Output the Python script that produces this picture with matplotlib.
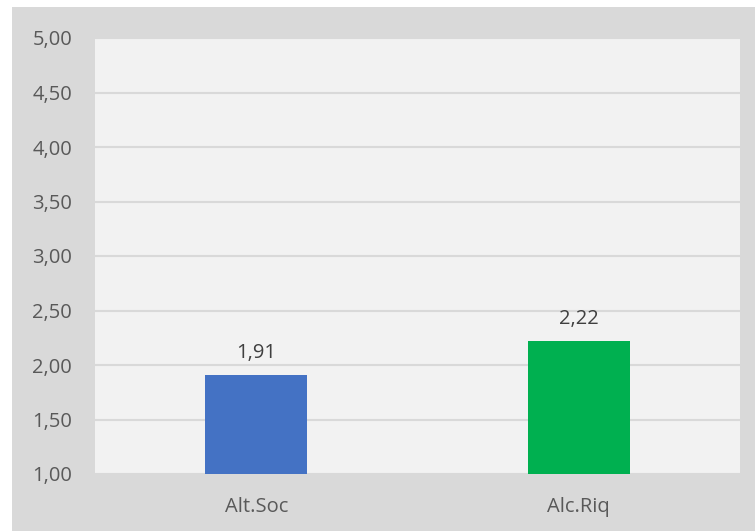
import matplotlib.pyplot as plt
from matplotlib.patches import Rectangle

categories = ['Alt.Soc', 'Alc.Riq']
values = [1.91, 2.22]
bar_colors = ['#4472c4', '#00b050']
yticks = [1.0, 1.5, 2.0, 2.5, 3.0, 3.5, 4.0, 4.5, 5.0]

plt.rcParams['font.family'] = ['Open Sans', 'DejaVu Sans']

W, H = 755, 531
fig = plt.figure(figsize=(W / 100, H / 100), dpi=100)
fig.patch.set_facecolor('white')
# gray chart area, leaving a white strip at left and top
fig.patches.append(Rectangle((12 / W, 0), 1 - 12 / W, 1 - 7 / H,
                             transform=fig.transFigure, facecolor='#d9d9d9',
                             edgecolor='none', zorder=-10))

ax = fig.add_axes([95 / W, (H - 474) / H, 645 / W, 436 / H])
ax.set_facecolor('#f2f2f2')

x = range(len(categories))
ax.bar(x, [v - 1.0 for v in values], bottom=1.0, width=0.316,
       color=bar_colors, zorder=3)
for xi, v in zip(x, values):
    ax.text(xi, v + 0.11, f'{v:.2f}'.replace('.', ','), ha='center', va='bottom',
            fontsize=14.5, color='#404040', zorder=4)

ax.set_xlim(-0.5, 1.5)
ax.set_ylim(1.0, 5.0)
ax.set_yticks(yticks)
ax.set_yticklabels([f'{t:.2f}'.replace('.', ',') for t in yticks])
ax.set_xticks(list(x))
ax.set_xticklabels(categories)
ax.tick_params(axis='both', length=0, labelsize=14.5, labelcolor='#595959')
ax.tick_params(axis='y', pad=16.5)
ax.tick_params(axis='x', pad=16.5)
ax.grid(axis='y', color='#d9d9d9', linewidth=1.5, zorder=1)
for s in ax.spines.values():
    s.set_visible(False)

fig.savefig('out.png', dpi=100, facecolor=fig.get_facecolor())
